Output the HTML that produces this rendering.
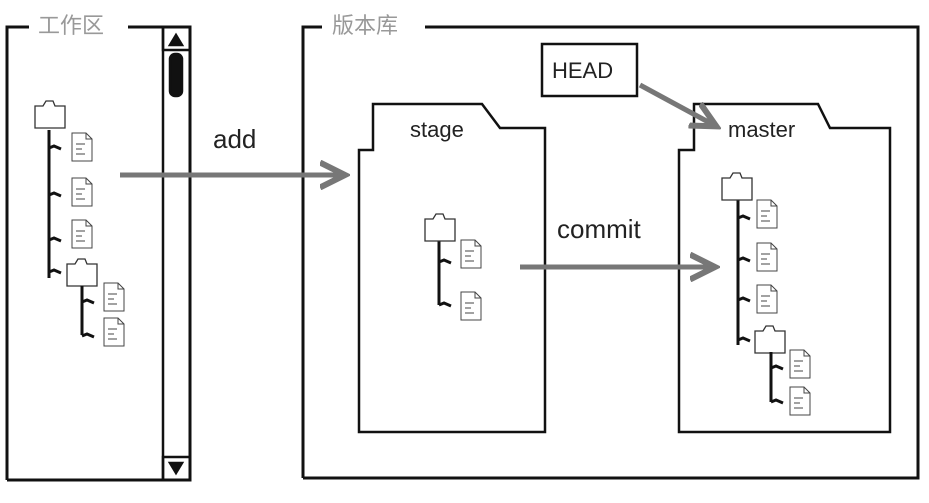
<!DOCTYPE html>
<html><head><meta charset="utf-8"><style>
html,body{margin:0;padding:0;background:#fff;}
svg{display:block;}
text{font-family:"Liberation Sans","Noto Sans CJK SC",sans-serif;}
</style></head><body>
<svg id="s" width="929" height="503" viewBox="0 0 929 503" xmlns="http://www.w3.org/2000/svg">
<defs><marker id="ah" markerWidth="6" markerHeight="6" refX="4" refY="3" orient="auto" markerUnits="strokeWidth"><path d="M0,0.5 L5,3 L0,5.5" fill="none" stroke="#777" stroke-width="1.2"/></marker></defs>
<g stroke="#111" stroke-width="3" fill="none">
<path d="M7,480 L7,27 L29,27 M128,27 L190,27 L190,480 L7,480"/>
<text x="38" y="33" font-size="22" fill="#999" stroke="none">工作区</text>
</g>
<g stroke="#111" stroke-width="2.5" fill="none">
<line x1="163" y1="27" x2="163" y2="480"/>
<rect x="163" y1="27" y="27" width="27" height="23"/>
<path d="M170,45 L176,35 L182,45 Z" fill="#111"/>
<rect x="170" y="54" width="12" height="42" rx="5" fill="#111"/>
<rect x="163" y="457" width="27" height="23"/>
<path d="M170,463 L176,473 L182,463 Z" fill="#111"/>
</g>
<g stroke="#111" stroke-width="3" fill="none">
<path d="M303,478 L303,27 L322,27 M425,27 L918,27 L918,478 L303,478"/>
<text x="332" y="33" font-size="22" fill="#999" stroke="none">版本库</text>
</g>
<g stroke="#111" stroke-width="2.5" fill="none">
<path d="M359,432 L359,150 L373,150 L373,104 L482,104 L500,128 L545,128 L545,432 Z"/>
<text x="410" y="137" font-size="22" fill="#222" stroke="none">stage</text>
</g>
<g stroke="#111" stroke-width="2.5" fill="none">
<path d="M679,432 L679,150 L694,150 L694,104 L818,104 L830,128 L890,128 L890,432 Z"/>
<text x="728" y="137" font-size="22" fill="#222" stroke="none">master</text>
</g>
<g>
<rect x="542" y="44" width="95" height="52" fill="#fff" stroke="#111" stroke-width="2.5"/>
<text x="552" y="78" font-size="22" fill="#222">HEAD</text>
</g>
<line x1="640" y1="85" x2="712" y2="124" stroke="#777" stroke-width="5" marker-end="url(#ah)"/>
<line x1="120" y1="175" x2="340" y2="175" stroke="#777" stroke-width="5" marker-end="url(#ah)"/>
<text x="213" y="148" font-size="26" fill="#222">add</text>
<line x1="520" y1="267" x2="710" y2="267" stroke="#777" stroke-width="5" marker-end="url(#ah)"/>
<text x="557" y="238" font-size="26" fill="#222">commit</text>
<g id="trees"></g>
</svg>
<script>
const NS="http://www.w3.org/2000/svg";
const T=document.getElementById('trees');
function mk(tag,attrs){const e=document.createElementNS(NS,tag);for(const k in attrs)e.setAttribute(k,attrs[k]);return e;}
function folder(x,y){
  const g=mk('g',{});
  
  
  g.appendChild(mk('path',{d:`M${x},${y+6} L${x+8},${y+6} L${x+11},${y+1} L${x+18},${y+1} L${x+20},${y+6} L${x+30},${y+6} L${x+30},${y+28} L${x},${y+28} Z`,fill:'#fff',stroke:'#333','stroke-width':1.3}));
  T.appendChild(g);
}
function file(x,y){
  const g=mk('g',{});
  
  
  g.appendChild(mk('path',{d:`M${x},${y} L${x+14},${y} L${x+20},${y+6} L${x+20},${y+28} L${x},${y+28} Z M${x+14},${y} L${x+14},${y+6} L${x+20},${y+6} M${x+4},${y+11} L${x+13},${y+11} M${x+4},${y+16} L${x+10},${y+16} M${x+4},${y+21} L${x+13},${y+21}`,fill:'#fff',stroke:'#444','stroke-width':1}));
  T.appendChild(g);
}
function trunk(x,y1,y2,branches){
  const g=mk('g',{});
  
  
  let d=`M${x},${y1} L${x},${y2}`;
  branches.forEach(b=>{d+=` M${x},${b} L${x+5},${b-2} L${x+12},${b+1}`;});
  g.appendChild(mk('path',{d:d,fill:'none',stroke:'#111','stroke-width':3}));
  T.appendChild(g);
}
// working dir tree
trunk(49,130,278,[148,195,240,272]);
folder(35,100);
file(72,133);file(72,178);file(72,220);
folder(67,258);
trunk(82,286,335,[302,336]);
file(104,283);file(104,318);
// stage tree
trunk(439,240,305,[262,305]);
folder(425,213);
file(461,240);file(461,292);
// master tree
trunk(738,200,345,[218,260,300,340]);
folder(722,172);
file(757,200);file(757,243);file(757,285);
folder(755,325);
trunk(771,352,402,[368,402]);
file(790,350);file(790,387);
</script>
</body></html>
